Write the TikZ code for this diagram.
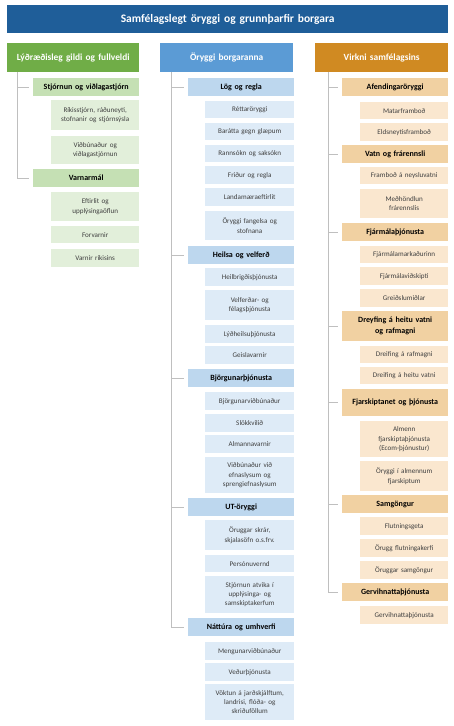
\documentclass[tikz,border=0pt]{standalone}
\usepackage{fontspec}
\setmainfont{Carlito}
\definecolor{titlec}{RGB}{31,94,153}
\definecolor{greenh}{RGB}{112,173,71}
\definecolor{blueh}{RGB}{91,155,213}
\definecolor{orangeh}{RGB}{208,138,34}
\definecolor{greens}{RGB}{197,224,180}
\definecolor{greeni}{RGB}{226,239,218}
\definecolor{blues}{RGB}{189,215,238}
\definecolor{bluei}{RGB}{222,235,247}
\definecolor{oranges}{RGB}{241,209,162}
\definecolor{orangei}{RGB}{250,231,207}
\definecolor{linec}{RGB}{191,191,191}
\definecolor{itemtxt}{RGB}{64,64,64}
\tikzset{
  base/.style={anchor=north west, inner xsep=2pt, inner ysep=0pt, align=center},
  titlebox/.style={base, fill=titlec, text=white, font=\fontsize{11.5}{13}\selectfont\bfseries},
  hdrbox/.style={base, text=white, font=\fontsize{9.4}{11}\selectfont\bfseries},
  subbox/.style={base, text=black, font=\fontsize{8}{11}\selectfont\bfseries},
  itembox/.style={base, text=itemtxt, font=\fontsize{7.1}{9.3}\selectfont},
  conn/.style={draw=linec, line width=0.8pt, shorten >=4pt},
}
\newcommand{\bx}[7]{\node[#1, minimum width=#5pt, minimum height=#6pt, text width=#5pt-4pt] (#2) at (#3pt,-#4pt) {#7};}
\begin{document}
\begin{tikzpicture}[x=1pt,y=1pt]
\useasboundingbox (0,0) rectangle (453,-726);
\fill[white] (0,0) rectangle (453,-726);
% title
\bx{titlebox}{title}{7}{5}{441}{28}{Samfélagslegt öryggi og grunnþarfir borgara}
% headers
\bx{hdrbox,fill=greenh}{hg}{7}{43}{132}{29}{Lýðræðisleg gildi og fullveldi}
\bx{hdrbox,fill=blueh}{hb}{160}{43}{133}{29}{Öryggi borgaranna}
\bx{hdrbox,fill=orangeh}{ho}{315}{43}{133}{29}{Virkni samfélagsins}
\coordinate (lg) at (17,0);
\coordinate (lb) at (171,0);
\coordinate (lo) at (328,0);
% ---------- left column
\bx{subbox,fill=greens}{g1}{33}{78}{106}{18}{Stjórnun og viðlagastjórn}
\bx{itembox,fill=greeni}{g1a}{51}{100}{88}{30}{Ríkisstjórn, ráðuneyti,\\stofnanir og stjórnsýsla}
\bx{itembox,fill=greeni}{g1b}{51}{136}{88}{28}{Viðbúnaður og\\viðlagastjórnun}
\bx{subbox,fill=greens}{g2}{33}{169}{106}{18}{Varnarmál}
\bx{itembox,fill=greeni}{g2a}{51}{192}{88}{29}{Eftirlit og\\upplýsingaöflun}
\bx{itembox,fill=greeni}{g2b}{51}{226}{88}{17}{Forvarnir}
\bx{itembox,fill=greeni}{g2c}{51}{249}{88}{18}{Varnir ríkisins}
% ---------- middle column
\bx{subbox,fill=blues}{b1}{188}{78}{106}{18}{Lög og regla}
\bx{itembox,fill=bluei}{b1a}{205}{101}{89}{17}{Réttaröryggi}
\bx{itembox,fill=bluei}{b1b}{205}{123}{89}{17}{Barátta gegn glæpum}
\bx{itembox,fill=bluei}{b1c}{205}{145}{89}{17}{Rannsókn og saksókn}
\bx{itembox,fill=bluei}{b1d}{205}{166}{89}{18}{Friður og regla}
\bx{itembox,fill=bluei}{b1e}{205}{188}{89}{18}{Landamæraeftirlit}
\bx{itembox,fill=bluei}{b1f}{205}{211}{89}{29}{Öryggi fangelsa og\\stofnana}
\bx{subbox,fill=blues}{b2}{188}{246}{106}{18}{Heilsa og velferð}
\bx{itembox,fill=bluei}{b2a}{205}{268}{89}{18}{Heilbrigðisþjónusta}
\bx{itembox,fill=bluei}{b2b}{205}{290}{89}{30}{Velferðar- og\\félagsþjónusta}
\bx{itembox,fill=bluei}{b2c}{205}{325}{89}{18}{Lýðheilsuþjónusta}
\bx{itembox,fill=bluei}{b2d}{205}{346}{89}{18}{Geislavarnir}
\bx{subbox,fill=blues}{b3}{188}{369}{106}{18}{Björgunarþjónusta}
\bx{itembox,fill=bluei}{b3a}{205}{392}{89}{18}{Björgunarviðbúnaður}
\bx{itembox,fill=bluei}{b3b}{205}{414}{89}{18}{Slökkvilið}
\bx{itembox,fill=bluei}{b3c}{205}{435}{89}{18}{Almannavarnir}
\bx{itembox,fill=bluei}{b3d}{205}{457}{89}{36}{Viðbúnaður við\\efnaslysum og\\sprengiefnaslysum}
\bx{subbox,fill=blues}{b4}{188}{498}{106}{18}{UT-öryggi}
\bx{itembox,fill=bluei}{b4a}{205}{520}{89}{30}{Öruggar skrár,\\skjalasöfn o.s.frv.}
\bx{itembox,fill=bluei}{b4b}{205}{555}{89}{17}{Persónuvernd}
\bx{itembox,fill=bluei}{b4c}{205}{576}{89}{37}{Stjórnun atvika í\\upplýsinga- og\\samskiptakerfum}
\bx{subbox,fill=blues}{b5}{188}{618}{106}{18}{Náttúra og umhverfi}
\bx{itembox,fill=bluei}{b5a}{205}{642}{89}{18}{Mengunarviðbúnaður}
\bx{itembox,fill=bluei}{b5b}{205}{663}{89}{18}{Veðurþjónusta}
\bx{itembox,fill=bluei}{b5c}{205}{684}{89}{36}{Vöktun á jarðskjálftum,\\landrisi, flóða- og\\skriðuföllum}
% ---------- right column
\bx{subbox,fill=oranges}{o1}{342}{78}{106}{18}{Afendingaröryggi}
\bx{itembox,fill=orangei}{o1a}{360}{102}{88}{17}{Matarframboð}
\bx{itembox,fill=orangei}{o1b}{360}{123}{88}{18}{Eldsneytisframboð}
\bx{subbox,fill=oranges}{o2}{342}{145}{106}{18}{Vatn og frárennsli}
\bx{itembox,fill=orangei}{o2a}{360}{167}{88}{17}{Framboð á neysluvatni}
\bx{itembox,fill=orangei}{o2b}{360}{189}{88}{29}{Meðhöndlun\\frárennslis}
\bx{subbox,fill=oranges}{o3}{342}{223}{106}{18}{Fjármálaþjónusta}
\bx{itembox,fill=orangei}{o3a}{360}{246}{88}{17}{Fjármálamarkaðurinn}
\bx{itembox,fill=orangei}{o3b}{360}{267}{88}{18}{Fjármálaviðskipti}
\bx{itembox,fill=orangei}{o3c}{360}{289}{88}{18}{Greiðslumiðlar}
\bx{subbox,fill=oranges}{o4}{342}{311}{106}{30}{Dreyfing á heitu vatni\\og rafmagni}
\bx{itembox,fill=orangei}{o4a}{360}{346}{88}{17}{Dreifing á rafmagni}
\bx{itembox,fill=orangei}{o4b}{360}{367}{88}{17}{Dreifing á heitu vatni}
\bx{subbox,fill=oranges}{o5}{342}{389}{106}{27}{Fjarskiptanet og þjónusta}
\bx{itembox,fill=orangei}{o5a}{360}{421}{88}{36}{Almenn\\fjarskiptaþjónusta\\(Ecom-þjónustur)}
\bx{itembox,fill=orangei}{o5b}{360}{461}{88}{30}{Öryggi í almennum\\fjarskiptum}
\bx{subbox,fill=oranges}{o6}{342}{495}{106}{18}{Samgöngur}
\bx{itembox,fill=orangei}{o6a}{360}{517}{88}{18}{Flutningsgeta}
\bx{itembox,fill=orangei}{o6b}{360}{539}{88}{18}{Örugg flutningakerfi}
\bx{itembox,fill=orangei}{o6c}{360}{561}{88}{18}{Öruggar samgöngur}
\bx{subbox,fill=oranges}{o7}{342}{583}{106}{18}{Gervihnattaþjónusta}
\bx{itembox,fill=orangei}{o7a}{360}{606}{88}{18}{Gervihnattaþjónusta}
% ---------- connectors
\foreach \s in {g1,g2} \draw[conn] (lg |- hg.south) |- (\s.west);
\foreach \s in {b1,b2,b3,b4,b5} \draw[conn] (lb |- hb.south) |- (\s.west);
\foreach \s in {o1,o2,o3,o4,o5,o6,o7} \draw[conn] (lo |- ho.south) |- (\s.west);
\end{tikzpicture}
\end{document}
